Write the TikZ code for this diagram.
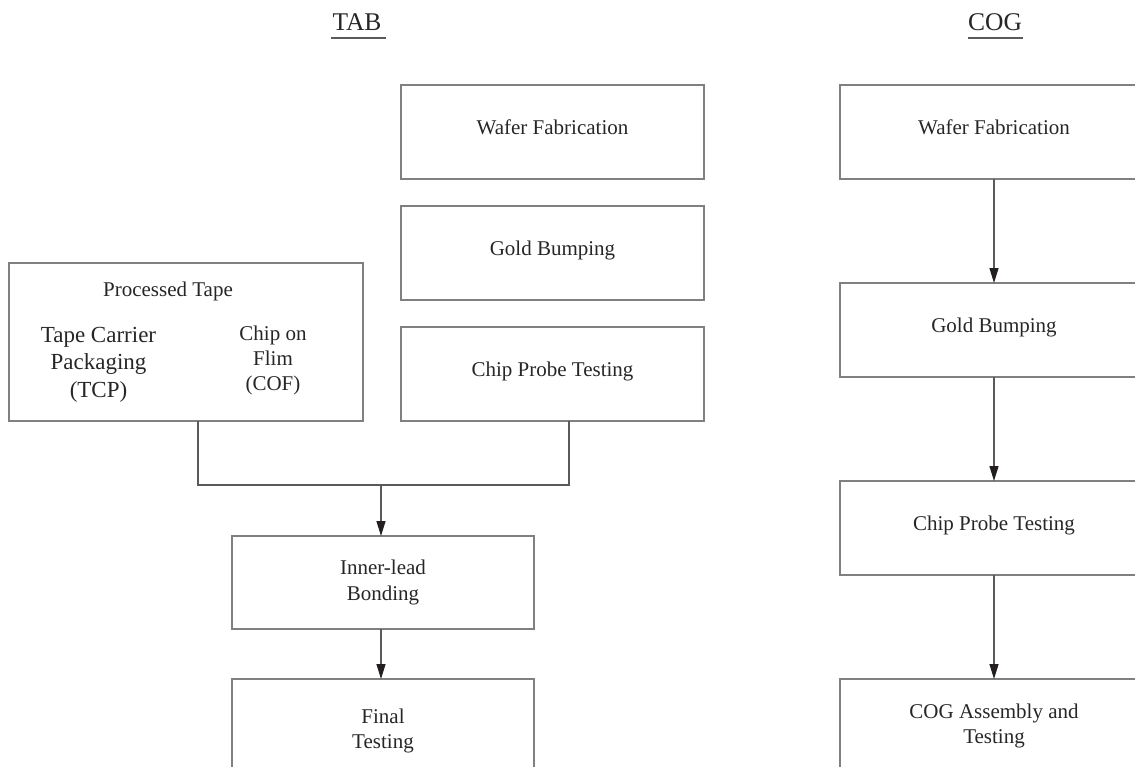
\documentclass[tikz,border=0pt]{standalone}
\usepackage{fontspec}
\setmainfont{Liberation Serif}
\usetikzlibrary{arrows.meta}
\definecolor{boxgray}{HTML}{808080}
\definecolor{linegray}{HTML}{5A5A5A}
\definecolor{tipdark}{HTML}{231F20}
\begin{document}
\begin{tikzpicture}[x=1pt,y=-1pt,
  stepbox/.style={draw=boxgray,line width=1.3pt,inner sep=0pt,outer sep=0pt,
    minimum width=303pt,minimum height=94pt,font=\fontsize{21}{25.2}\selectfont,
    text=black!85,align=center},
  onebox/.style={stepbox,text height=0.75em,text depth=0.25em},
  plaintext/.style={inner sep=0pt,outer sep=0pt,text=black!85,align=center},
  conn/.style={draw=linegray,line width=1.3pt},
  arr/.style={conn,-{Triangle[width=9pt,length=15pt,color=tipdark]}},
  title/.style={inner sep=0pt,font=\fontsize{25.5}{30}\selectfont,text=black!85,anchor=base}
]
\useasboundingbox (0,0) rectangle (1135,766);
\clip (0,0) rectangle (1135,766);

% titles
\node[title] (tab) at (357,30) {TAB};
\node[title] (cog) at (995,30) {COG};
\coordinate (tabulL) at (331,38);
\coordinate (tabulR) at (386,38);
\coordinate (cogulL) at (968,38);
\coordinate (cogulR) at (1023,38);
\draw[draw=linegray,line width=1.2pt] (tabulL) -- (tabulR);
\draw[draw=linegray,line width=1.2pt] (cogulL) -- (cogulR);

% TAB column
\node[onebox] (tWafer) at (552.5,132) {Wafer Fabrication};
\node[onebox] (tGold)  at (552.5,253) {Gold Bumping};
\node[onebox] (tProbe) at (552.5,374) {Chip Probe Testing};

\node[draw=boxgray,line width=1.3pt,inner sep=0pt,outer sep=0pt,
      minimum width=354pt,minimum height=158pt] (tape) at (186,342) {};
\node[plaintext,font=\fontsize{21}{25.2}\selectfont,anchor=base] (ptape) at (168,296) {Processed Tape};
\node[plaintext,font=\fontsize{23}{27.5}\selectfont,anchor=north] (tcp) at (98.5,327)
  {Tape Carrier\\Packaging\\(TCP)};
\node[plaintext,font=\fontsize{21}{25}\selectfont,anchor=north] (cof) at (273,326)
  {Chip on\\Flim\\(COF)};

\node[stepbox,minimum width=302pt,minimum height=93pt] (ilb) at (383,582.5) {Inner-lead\\Bonding};
\node[stepbox,minimum width=302pt,minimum height=104pt] (final) at (383,731) {Final\\Testing};

\coordinate (join) at (381,485);
\draw[conn] ([xshift=12]tape.south) |- (join) -| ([xshift=16.5]tProbe.south);
\draw[arr] (join) -- (ilb.north -| join);
\draw[arr] (ilb.south -| join) -- (final.north -| join);

% COG column
\node[onebox,minimum width=308pt] (cWafer) at (994,132) {Wafer Fabrication};
\node[onebox,minimum width=308pt] (cGold)  at (994,330) {Gold Bumping};
\node[onebox,minimum width=308pt] (cProbe) at (994,528) {Chip Probe Testing};
\node[stepbox,minimum width=308pt,minimum height=94pt] (cAsm) at (994,726) {COG Assembly and\\Testing};

\draw[arr] (cWafer.south) -- (cGold.north);
\draw[arr] (cGold.south) -- (cProbe.north);
\draw[arr] (cProbe.south) -- (cAsm.north);
\end{tikzpicture}
\end{document}
